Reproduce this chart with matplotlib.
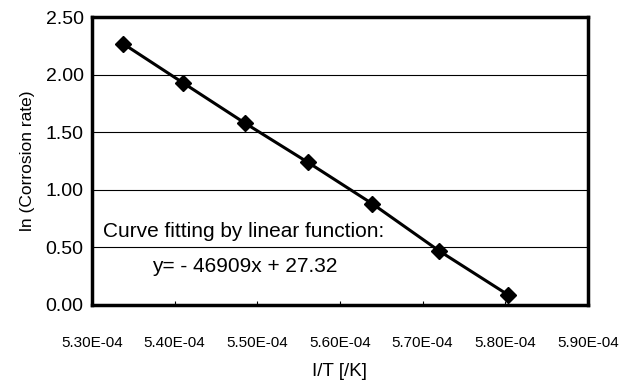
import matplotlib
matplotlib.use('Agg')
import matplotlib.pyplot as plt

plt.rcParams['font.family'] = ['Liberation Sans', 'DejaVu Sans']

# data (x = 1/T, y = ln corrosion rate)
inv_T = [5.3375e-4, 5.410e-4, 5.485e-4, 5.561e-4, 5.639e-4, 5.720e-4, 5.803e-4]
ln_rate = [2.27, 1.93, 1.58, 1.24, 0.88, 0.47, 0.09]

x_ticks = [5.30e-4, 5.40e-4, 5.50e-4, 5.60e-4, 5.70e-4, 5.80e-4, 5.90e-4]
y_ticks = [0.0, 0.5, 1.0, 1.5, 2.0, 2.5]

fig = plt.figure(figsize=(6.39, 3.90), dpi=100)
ax = fig.add_axes([0.144, 0.218, 0.776, 0.738])

ax.plot(inv_T, ln_rate, color='black', lw=2.2, marker='D', markersize=8,
        zorder=3, clip_on=False)

ax.set_xlim(5.30e-4, 5.90e-4)
ax.set_ylim(0, 2.5)
ax.set_xticks(x_ticks)
ax.set_xticklabels([f'{v:.2E}' for v in x_ticks], fontsize=11)
ax.set_yticks(y_ticks)
ax.set_yticklabels([f'{v:.2f}' for v in y_ticks], fontsize=14)

for v in y_ticks[1:-1]:
    ax.axhline(v, color='black', lw=0.8, zorder=1)

ax.tick_params(axis='x', direction='in', length=3, width=0.8, pad=22)
ax.tick_params(axis='y', length=0, pad=6)

for s in ax.spines.values():
    s.set_linewidth(2.5)
    s.set_color('black')

ax.set_xlabel('I/T [/K]', fontsize=13.5, labelpad=10)
ax.set_ylabel('ln (Corrosion rate)', fontsize=12.5, labelpad=8)

ax.text(0.022, 0.257, 'Curve fitting by linear function:', transform=ax.transAxes,
        fontsize=15, va='center', ha='left')
ax.text(0.121, 0.132, 'y= - 46909x + 27.32', transform=ax.transAxes,
        fontsize=15, va='center', ha='left')

fig.savefig('out.png', dpi=100)
